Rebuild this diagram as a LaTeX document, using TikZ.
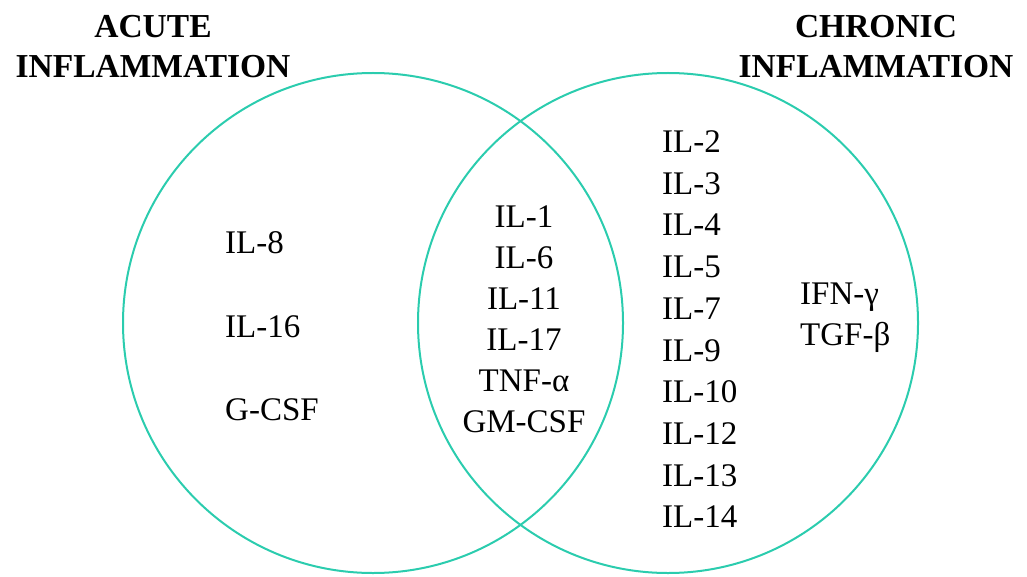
\documentclass[tikz,border=0pt]{standalone}
\usepackage{fontspec}
\setmainfont{Liberation Serif}
\definecolor{venn}{RGB}{43,204,174}
\begin{document}
\begin{tikzpicture}[x=1pt,y=-1pt,
  ring/.style={draw=venn,line width=2pt},
  heading/.style={inner sep=0pt,align=center,anchor=north,font=\fontsize{33.5}{40}\selectfont\bfseries},
  cyto/.style={inner sep=0pt,anchor=north west,align=left},
  cytoc/.style={inner sep=0pt,anchor=north,align=center}]
\useasboundingbox (0,0) rectangle (1027,577);
\draw[ring] (373,323) circle[radius=250];
\draw[ring] (668,323) circle[radius=250];
\node[heading] (acute) at (153,15) {ACUTE\\INFLAMMATION};
\node[heading] (chronic) at (876,15) {CHRONIC\\INFLAMMATION};
\node[cyto,font=\fontsize{33}{83.5}\selectfont] (left) at (225,231.5) {IL-8\\IL-16\\G-CSF};
\node[cytoc,font=\fontsize{33}{41}\selectfont] (mid) at (524,205.5) {IL-1\\IL-6\\IL-11\\IL-17\\TNF-α\\GM-CSF};
\node[cyto,font=\fontsize{33}{41.7}\selectfont] (right) at (662,130.5) {IL-2\\IL-3\\IL-4\\IL-5\\IL-7\\IL-9\\IL-10\\IL-12\\IL-13\\IL-14};
\node[cyto,font=\fontsize{33}{41}\selectfont] (far) at (800,283) {IFN-γ\\TGF-β};
\end{tikzpicture}
\end{document}
